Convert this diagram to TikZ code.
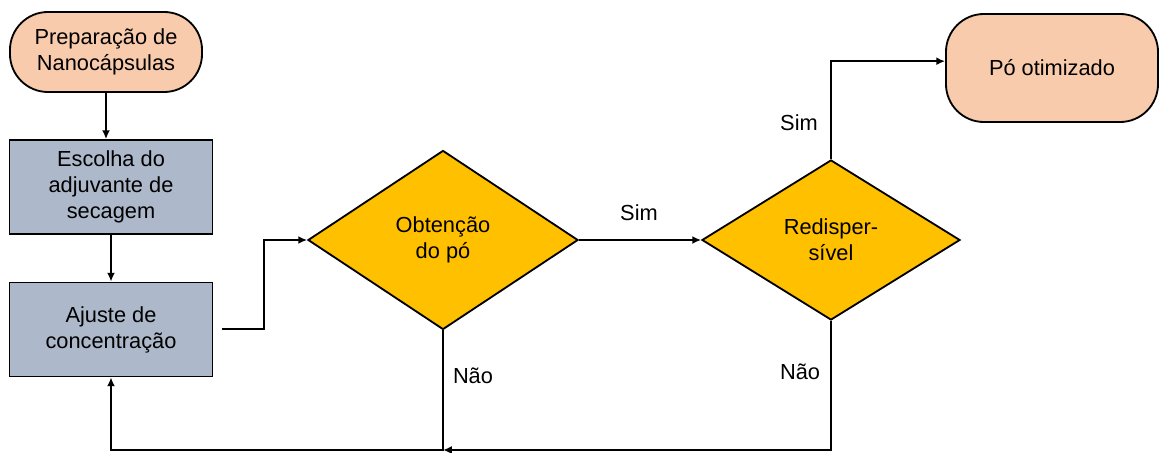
\documentclass[tikz,border=0pt]{standalone}
\usepackage{fontspec}
\setmainfont{Liberation Sans}
\usetikzlibrary{shapes.geometric,arrows.meta}

\definecolor{pessego}{HTML}{F8CBAD}
\definecolor{cinzaazul}{HTML}{ADB9CA}
\definecolor{ouro}{HTML}{FFC000}

\begin{document}
\begin{tikzpicture}[
  x=0.025cm, y=-0.025cm,
  terminal/.style={
    draw=black, line width=1.3pt, fill=pessego,
    rounded corners=0.95cm, align=center, inner sep=0pt,
    font=\fontsize{15.5}{18.5}\selectfont
  },
  etapa/.style={
    draw=black, line width=1.3pt, fill=cinzaazul,
    minimum width=5.07cm, minimum height=2.35cm,
    align=center, inner sep=0pt,
    font=\fontsize{15.5}{18.5}\selectfont
  },
  decisao/.style={
    diamond, draw=black, line width=1.3pt, fill=ouro,
    align=center, inner sep=0pt,
    font=\fontsize{15.5}{18.5}\selectfont
  },
  seta/.style={-{Latex[length=2.2mm,width=2mm]}, line width=1.3pt},
  rotulo/.style={font=\fontsize{15.5}{18.5}\selectfont}
]
\useasboundingbox (0,0) rectangle (1160,453);

% ================= COLUNA ESQUERDA =================
\node[terminal, minimum width=4.8cm, minimum height=2cm] (prep) at (106,52)
  {Prepara\c{c}\~ao de\\Nanoc\'apsulas};
\node[etapa] (escolha) at (111,187) {Escolha do\\adjuvante de\\secagem};
\node[etapa] (ajuste) at (111,329.5) {Ajuste de\\concentra\c{c}\~ao};

% ================= DECISOES =================
\node[decisao, minimum width=6.75cm, minimum height=4.475cm] (obtencao) at (443,240)
  {Obten\c{c}\~ao\\do p\'o};
\node[decisao, minimum width=6.45cm, minimum height=4cm] (redisp) at (831,240)
  {Redisper-\\s\'ivel};

% ================= FIM =================
\node[terminal, minimum width=5.3cm, minimum height=2.7cm] (otimo) at (1052,68)
  {P\'o otimizado};

% pontos auxiliares
\coordinate (dobra) at (264,329);
\coordinate (baixo) at (443,450);

% ================= SETAS =================
\draw[seta] (prep.south) -- (prep.south |- escolha.north);
\draw[seta] (escolha) -- (ajuste);
\draw[seta, shorten <=6pt] (ajuste.east |- dobra) -- (dobra) |- (obtencao.west);
\draw[seta] (obtencao.east) -- (redisp.west);
\draw[seta] (redisp.north) |- ([yshift=0.17cm]otimo.west);
\draw[seta] (redisp.south) |- (baixo);
\draw[seta] (obtencao.south) |- (ajuste.south |- baixo) -- (ajuste.south);

% rotulos
\node[rotulo] (sim1) at (639,213) {Sim};
\node[rotulo] (sim2) at (799,123) {Sim};
\node[rotulo] (nao1) at (473,376) {N\~ao};
\node[rotulo] (nao2) at (800,372) {N\~ao};

\end{tikzpicture}
\end{document}
